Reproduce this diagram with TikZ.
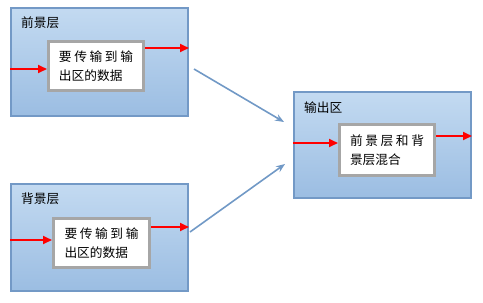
\documentclass[tikz,border=0pt]{standalone}
\usepackage{fontspec}
\setmainfont{Noto Sans CJK SC}
\usetikzlibrary{arrows.meta,calc}
\definecolor{boxtop}{HTML}{C3DAF1}
\definecolor{boxbot}{HTML}{9BBDE2}
\definecolor{boxline}{HTML}{7399C6}
\definecolor{innerline}{HTML}{A6A6A6}
\definecolor{bluearrow}{HTML}{7199C6}
\tikzset{
  layer/.style={draw=boxline, line width=2pt, top color=boxtop, bottom color=boxbot, minimum width=177pt, minimum height=108pt, inner sep=0pt},
  inner/.style={draw=innerline, line width=3pt, fill=white, minimum width=95pt, minimum height=49pt, inner sep=0pt, align=left, font=\fontsize{12.7}{19}\selectfont},
  lbl/.style={anchor=west, inner sep=0pt, font=\fontsize{12.7}{15}\selectfont},
  redarrow/.style={draw=red, line width=2pt, -{Triangle[length=9pt,width=8pt]}},
  bluearr/.style={draw=bluearrow, line width=1.6pt, -{Stealth[length=9pt,width=7pt]}},
}
\begin{document}
\begin{tikzpicture}[x=1pt,y=-1pt]
\useasboundingbox (0,0) rectangle (483,303);
% layer 1
\node[layer] (layer1) at (99.5,62) {};
\node[lbl] (l1) at (21,23) {前景层};
\node[inner] (in1) at (96,66) {\makebox[74pt][s]{要\hfil 传\hfil 输\hfil 到\hfil 输}\\\makebox[74pt][l]{出区的数据}};
% layer 2
\node[layer, minimum height=107pt] (layer2) at (99.5,237.5) {};
\node[lbl] (l2) at (21,199) {背景层};
\node[inner, minimum width=96pt] (in2) at (101.5,243) {\makebox[74pt][s]{要\hfil 传\hfil 输\hfil 到\hfil 输}\\\makebox[74pt][l]{出区的数据}};
% output
\node[layer, minimum height=106pt] (out) at (382.5,145) {};
\node[lbl] (l3) at (304,108) {输出区};
\node[inner, minimum height=51pt] (in3) at (387,150) {\makebox[74pt][s]{前\hfil 景\hfil 层\hfil 和\hfil 背}\\\makebox[74pt][l]{景层混合}};
% red arrows
\coordinate (a1) at ([yshift=-3pt]in1.west);
\coordinate (b1) at ([yshift=18pt]in1.east);
\draw[redarrow] (a1 -| layer1.west) -- (a1);
\draw[redarrow] (b1) -- (b1 -| layer1.east);
\coordinate (a2) at ([yshift=3pt]in2.west);
\coordinate (b2) at ([yshift=16pt]in2.east);
\draw[redarrow] (a2 -| layer2.west) -- (a2);
\draw[redarrow] (b2) -- (b2 -| layer2.east);
\coordinate (a3) at ([yshift=7pt]in3.west);
\coordinate (b3) at ([yshift=14pt]in3.east);
\draw[redarrow] (a3 -| out.west) -- (a3);
\draw[redarrow] (b3) -- (b3 -| out.east);
% blue arrows
\coordinate (s1) at ([shift={(5pt,-7pt)}]layer1.east);
\coordinate (e1) at ([shift={(-9pt,23pt)}]out.west);
\coordinate (s2) at ([shift={(1pt,5.5pt)}]layer2.east);
\coordinate (e2) at ([shift={(-8pt,-19pt)}]out.west);
\draw[bluearr] (s1) -- (e1);
\draw[bluearr] (s2) -- (e2);
\end{tikzpicture}
\end{document}
